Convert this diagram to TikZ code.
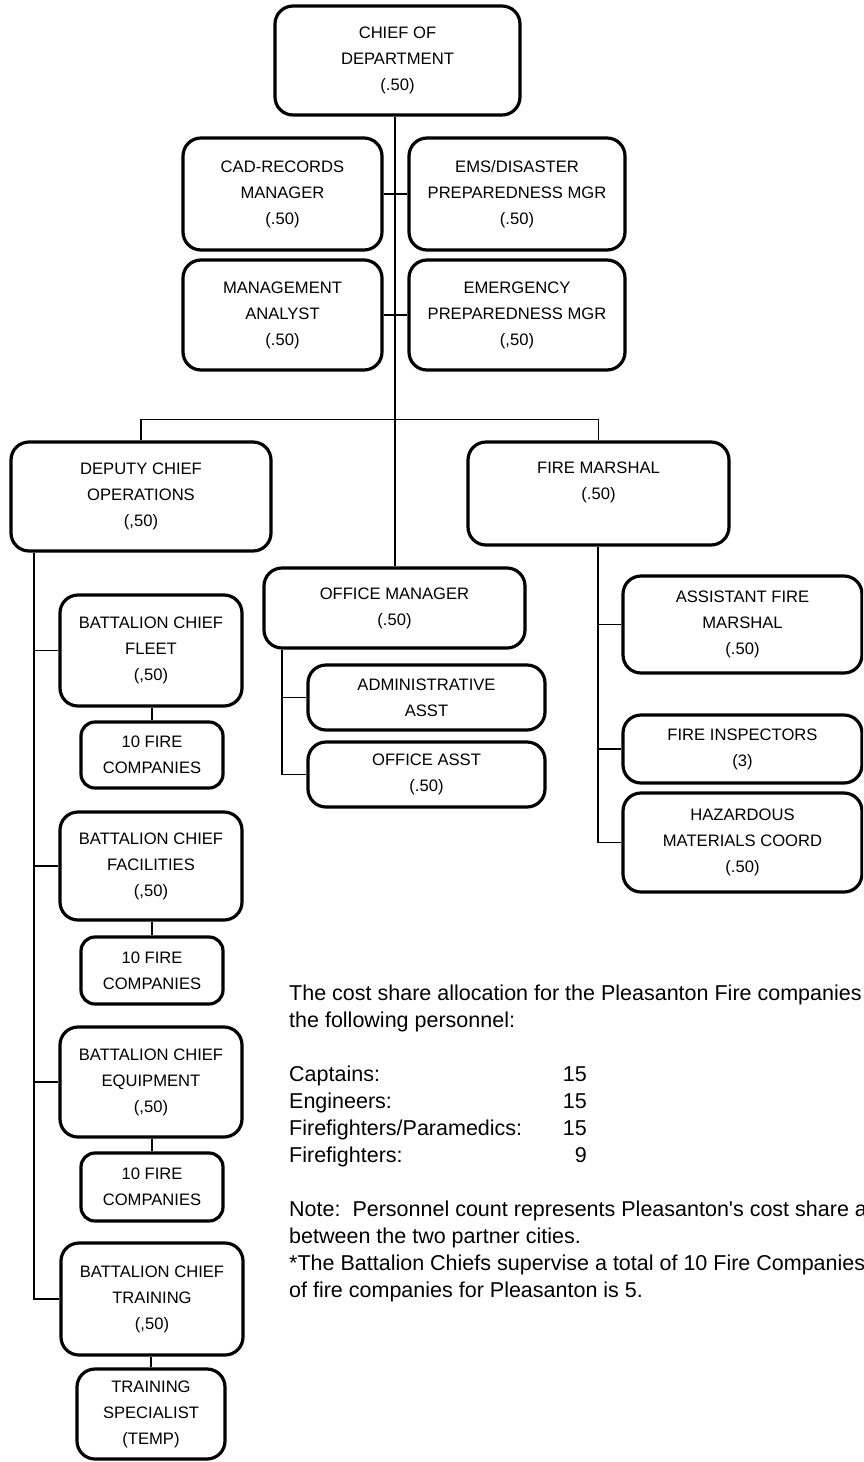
\documentclass[tikz,border=0pt]{standalone}
\usepackage{fontspec}
\setmainfont{Liberation Sans}
\begin{document}
\begin{tikzpicture}[x=1pt,y=-1pt,
  box/.style={draw,line width=3.2pt,rounded corners=18pt,align=center,
    inner sep=0pt,font=\fontsize{16.6}{26}\selectfont},
  smallbox/.style={box,rounded corners=14pt},
  conn/.style={line width=1.2pt},
  body/.style={anchor=base west,inner sep=0pt,font=\fontsize{21.5}{27}\selectfont},
  num/.style={anchor=base east,inner sep=0pt,font=\fontsize{21.5}{27}\selectfont}]
\useasboundingbox (0,0) rectangle (863,1462);
\clip (0,0) rectangle (863,1462);

% top of the chart
\node[box,minimum width=245pt,minimum height=109pt] (chief) at (397.5,60.5) {CHIEF OF\\DEPARTMENT\\(.50)};
\node[box,minimum width=199pt,minimum height=112pt] (cad) at (282.5,194) {CAD-RECORDS\\MANAGER\\(.50)};
\node[box,minimum width=216pt,minimum height=112pt] (ems) at (517,194) {EMS/DISASTER\\PREPAREDNESS MGR\\(.50)};
\node[box,minimum width=199pt,minimum height=110pt] (mgmt) at (282.5,315) {MANAGEMENT\\ANALYST\\(.50)};
\node[box,minimum width=216pt,minimum height=110pt] (emerg) at (517,315) {EMERGENCY\\PREPAREDNESS MGR\\(,50)};

% second level
\node[box,minimum width=260pt,minimum height=109pt] (dep) at (141,496.5) {DEPUTY CHIEF\\OPERATIONS\\(,50)};
\node[box,minimum width=261pt,minimum height=103pt] (fm) at (598.5,493.5) {FIRE MARSHAL\\(.50)\\~};
\node[box,minimum width=261pt,minimum height=80pt] (om) at (394.5,608) {OFFICE MANAGER\\(.50)};

% office staff
\node[box,minimum width=237pt,minimum height=65pt] (admin) at (426.5,697.5) {ADMINISTRATIVE\\ASST};
\node[box,minimum width=237pt,minimum height=65pt] (oasst) at (426.5,774.5) {OFFICE ASST\\(.50)};

% fire marshal staff
\node[box,minimum width=239pt,minimum height=97pt] (afm) at (742.5,624.5) {ASSISTANT FIRE\\MARSHAL\\(.50)};
\node[box,minimum width=239pt,minimum height=68pt] (finsp) at (742.5,749) {FIRE INSPECTORS\\(3)};
\node[box,minimum width=239pt,minimum height=99pt] (haz) at (742.5,842.5) {HAZARDOUS\\MATERIALS COORD\\(.50)};

% battalion chiefs and their companies
\node[box,minimum width=182pt,minimum height=111pt] (fleet) at (151,650.5) {BATTALION CHIEF\\FLEET\\(,50)};
\node[smallbox,minimum width=142pt,minimum height=66pt] (fc1) at (152,755) {10 FIRE\\COMPANIES};
\node[box,minimum width=182pt,minimum height=108pt] (fac) at (151,866) {BATTALION CHIEF\\FACILITIES\\(,50)};
\node[smallbox,minimum width=142pt,minimum height=67pt] (fc2) at (152,970.5) {10 FIRE\\COMPANIES};
\node[box,minimum width=182pt,minimum height=110pt] (equip) at (151,1082) {BATTALION CHIEF\\EQUIPMENT\\(,50)};
\node[smallbox,minimum width=142pt,minimum height=68pt] (fc3) at (152,1187) {10 FIRE\\COMPANIES};
\node[box,minimum width=182pt,minimum height=112pt] (train) at (152,1299) {BATTALION CHIEF\\TRAINING\\(,50)};
\node[box,minimum width=148pt,minimum height=90pt] (spec) at (151,1414) {TRAINING\\SPECIALIST\\(TEMP)};

% guide positions of the vertical lines
\coordinate (tk) at (395,0);
\coordinate (dx) at (34,0);
\coordinate (ox) at (282,0);
\coordinate (fx) at (598,0);

% connectors
\draw[conn] (chief.south -| tk) -- (om.north -| tk);
\draw[conn] (cad.east) -- (ems.west);
\draw[conn] (mgmt.east) -- (emerg.west);
\draw[conn] (dep.north) -- ++(0,-21) -| (fm.north);

\draw[conn] (dep.south -| dx) |- (train.west);
\draw[conn] (dx |- fleet.west) -- (fleet.west);
\draw[conn] (dx |- fac.west) -- (fac.west);
\draw[conn] (dx |- equip.west) -- (equip.west);
\draw[conn] (fleet.south -| fc1.north) -- (fc1.north);
\draw[conn] (fac.south -| fc2.north) -- (fc2.north);
\draw[conn] (equip.south -| fc3.north) -- (fc3.north);
\draw[conn] (train.south -| spec.north) -- (spec.north);

\draw[conn] (om.south -| ox) |- (oasst.west);
\draw[conn] (ox |- admin.west) -- (admin.west);

\draw[conn] (fm.south -| fx) |- (haz.west);
\draw[conn] (fx |- afm.west) -- (afm.west);
\draw[conn] (fx |- finsp.west) -- (finsp.west);

% notes
\node[body] (t1) at (289,1000) {The cost share allocation for the Pleasanton Fire companies};
\node[body] (t2) at (289,1027) {the following personnel:};
\node[body] (t3) at (289,1081) {Captains:};
\node[num]  (n3) at (587,1081) {15};
\node[body] (t4) at (289,1108) {Engineers:};
\node[num]  (n4) at (587,1108) {15};
\node[body] (t5) at (289,1135) {Firefighters/Paramedics:};
\node[num]  (n5) at (587,1135) {15};
\node[body] (t6) at (289,1162) {Firefighters:};
\node[num]  (n6) at (587,1162) {9};
\node[body] (t7) at (289,1216) {Note:\ \ Personnel count represents Pleasanton\textquotesingle s cost share a};
\node[body] (t8) at (289,1243) {between the two partner cities.};
\node[body] (t9) at (289,1270) {*The Battalion Chiefs supervise a total of 10 Fire Companies};
\node[body] (t10) at (289,1297) {of fire companies for Pleasanton is 5.};
\end{tikzpicture}
\end{document}
